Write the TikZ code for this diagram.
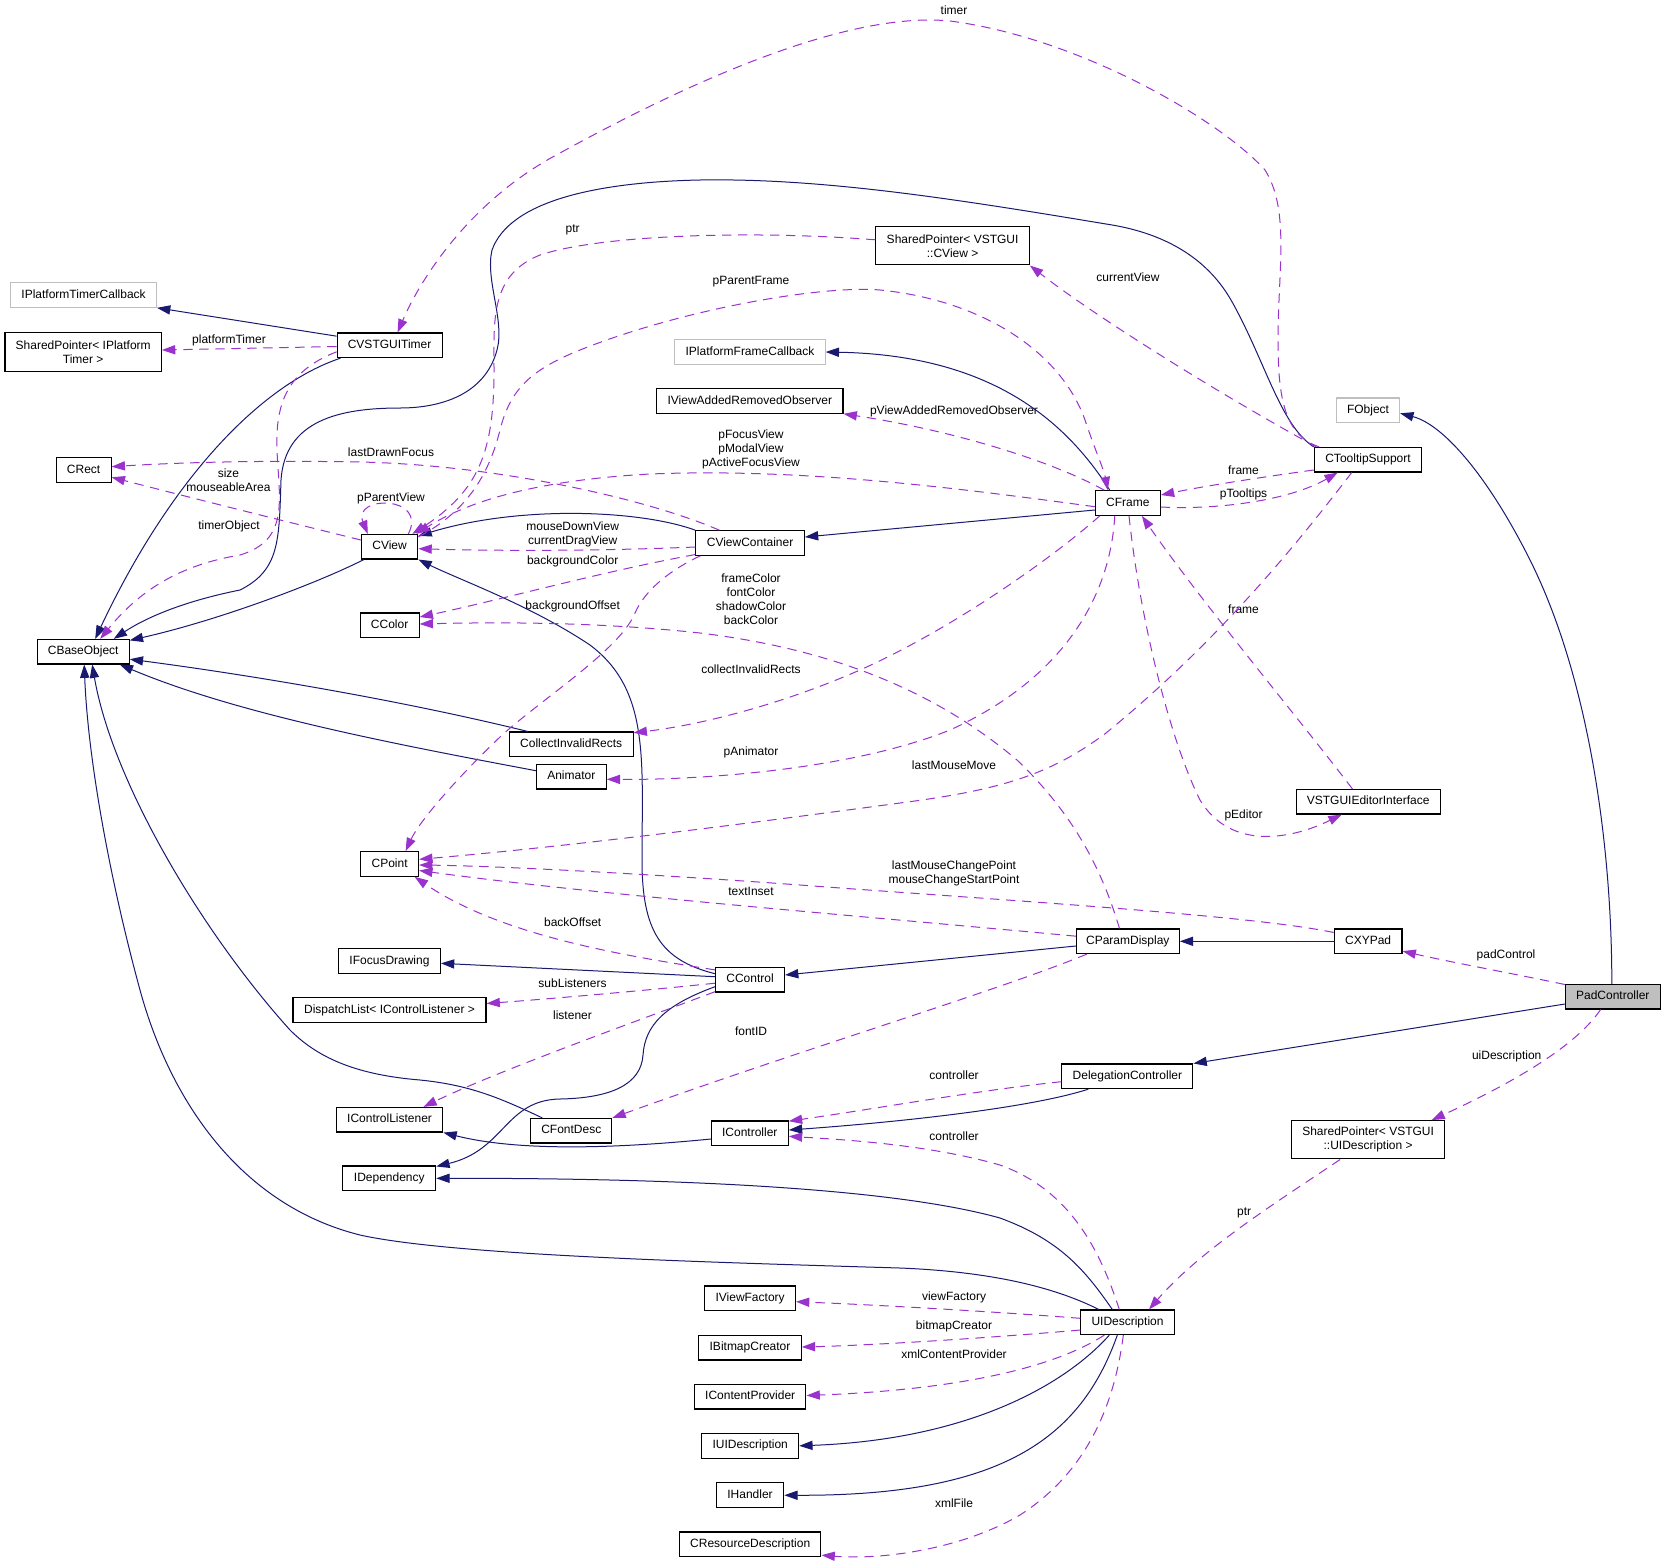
\documentclass[tikz,border=0pt]{standalone}
\usepackage{fontspec}
\setmainfont{Liberation Sans}
\usetikzlibrary{arrows.meta,calc}
\definecolor{inhcol}{HTML}{191970}
\definecolor{usecol}{HTML}{9A32CD}
\definecolor{greyb}{HTML}{BFBFBF}
\newcommand\lblfont{\fontsize{9}{10.6}\selectfont}
\tikzset{
  clsbox/.style={draw=black, line width=0.8pt, rectangle, inner sep=0pt, minimum height=18.45pt, font=\lblfont, fill=white, text height=6.6pt, text depth=1.9pt},
  clsboxtwo/.style={draw=black, line width=0.8pt, rectangle, inner sep=0pt, minimum height=28.7pt, font=\lblfont, fill=white, align=center},
  greybox/.style={clsbox, draw=greyb},
  padbox/.style={clsbox, fill=greyb},
  lbl/.style={font=\lblfont, align=center, inner sep=0pt},
  inhe/.style={draw=inhcol, line width=0.75pt, -{Triangle[length=10pt,width=6.9pt]}},
  usee/.style={draw=usecol, line width=0.75pt, dash pattern=on 7pt off 5pt, -{Triangle[length=10pt,width=6.9pt]}},
}
\begin{document}
\begin{tikzpicture}[x=0.75pt,y=-0.75pt]
\fill[white] (0,0) rectangle (1666,1564);
\useasboundingbox (0,0) rectangle (1666,1564);
% ---------------- nodes ----------------
\node[greybox, minimum width=145.7*0.75pt] (iptc) at (83.6,295) {IPlatformTimerCallback};
\node[clsboxtwo, minimum width=156.4*0.75pt] (spt) at (83.2,352) {SharedPointer< IPlatform\\Timer >};
\node[clsbox, minimum width=105*0.75pt] (timer) at (389.6,345.3) {CVSTGUITimer};
\node[clsbox, minimum width=55*0.75pt] (crect) at (83.6,470) {CRect};
\node[clsbox, minimum width=56.5*0.75pt] (cview) at (389.6,546.7) {CView};
\node[clsbox, minimum width=59*0.75pt] (ccolor) at (389.6,625.3) {CColor};
\node[clsbox, minimum width=92*0.75pt] (cbase) at (83.2,651.7) {CBaseObject};
\node[clsbox, minimum width=58*0.75pt] (cpoint) at (389.6,864) {CPoint};
\node[clsbox, minimum width=101.8*0.75pt] (ifocus) at (389.5,961) {IFocusDrawing};
\node[clsbox, minimum width=193*0.75pt] (dispatch) at (389.5,1010) {DispatchList< IControlListener >};
\node[clsboxtwo, minimum width=153.5*0.75pt] (spcview) at (952.6,245.8) {SharedPointer< VSTGUI\\::CView >};
\node[greybox, minimum width=150.3*0.75pt] (ipfc) at (750,352) {IPlatformFrameCallback};
\node[clsbox, minimum width=186.4*0.75pt] (ivaro) at (749.8,401) {IViewAddedRemovedObserver};
\node[greybox, minimum width=63.2*0.75pt] (fobject) at (1368,410.3) {FObject};
\node[clsbox, minimum width=107.5*0.75pt] (tooltip) at (1368,459.7) {CTooltipSupport};
\node[clsbox, minimum width=65*0.75pt] (cframe) at (1127.8,503) {CFrame};
\node[clsbox, minimum width=108.5*0.75pt] (cvc) at (750.1,543) {CViewContainer};
\node[clsbox, minimum width=123.7*0.75pt] (cir) at (571.2,744.3) {CollectInvalidRects};
\node[clsbox, minimum width=69.8*0.75pt] (anim) at (571.3,776.7) {Animator};
\node[clsbox, minimum width=69*0.75pt] (ccontrol) at (750,979.7) {CControl};
\node[clsbox, minimum width=103*0.75pt] (cparam) at (1127.8,941.3) {CParamDisplay};
\node[clsbox, minimum width=144.3*0.75pt] (veditor) at (1368.2,801.7) {VSTGUIEditorInterface};
\node[clsbox, minimum width=67.8*0.75pt] (cxypad) at (1368.1,941.3) {CXYPad};
\node[padbox, minimum width=95*0.75pt] (pad) at (1612.8,996.7) {PadController};
\node[clsbox, minimum width=106.5*0.75pt] (icl) at (389.6,1119.7) {IControlListener};
\node[clsbox, minimum width=92.8*0.75pt] (idep) at (389.3,1178.3) {IDependency};
\node[clsbox, minimum width=81*0.75pt] (fontdesc) at (571.3,1130.7) {CFontDesc};
\node[clsbox, minimum width=77*0.75pt] (ictrl) at (749.8,1133.3) {IController};
\node[clsbox, minimum width=131*0.75pt] (deleg) at (1127.4,1076.3) {DelegationController};
\node[clsbox, minimum width=90.7*0.75pt] (ivf) at (750.1,1298.3) {IViewFactory};
\node[clsbox, minimum width=93.3*0.75pt] (uidesc) at (1127.5,1322.3) {UIDescription};
\node[clsbox, minimum width=102.5*0.75pt] (ibmp) at (750,1347.7) {IBitmapCreator};
\node[clsbox, minimum width=111.5*0.75pt] (icp) at (750.2,1396.7) {IContentProvider};
\node[clsbox, minimum width=97*0.75pt] (iuid) at (750.2,1445.8) {IUIDescription};
\node[clsbox, minimum width=67.5*0.75pt] (ihandler) at (750,1495.2) {IHandler};
\node[clsbox, minimum width=141.5*0.75pt] (cres) at (750.2,1544.3) {CResourceDescription};
\node[clsboxtwo, minimum width=153*0.75pt] (spui) at (1368.1,1139.8) {SharedPointer< VSTGUI\\::UIDescription >};
% ---------------- labels ----------------
\node[lbl] (l1) at (954,10.7) {timer};
\node[lbl] (l2) at (572.6,230) {ptr};
\node[lbl] (l3) at (751,281.7) {pParentFrame};
\node[lbl] (l4) at (1128,277) {currentView};
\node[lbl] (l5) at (229,340) {platformTimer};
\node[lbl] (l6) at (954,411) {pViewAddedRemovedObserver};
\node[lbl] (l7) at (751,449.7) {pFocusView\\pModalView\\pActiveFocusView};
\node[lbl] (l8) at (391,452.3) {lastDrawnFocus};
\node[lbl] (l9) at (1243.5,470.7) {frame};
\node[lbl] (l10) at (228.5,480.3) {size\\mouseableArea};
\node[lbl] (l11) at (1243.5,494.3) {pTooltips};
\node[lbl] (l12) at (391,498) {pParentView};
\node[lbl] (l13) at (229,526.7) {timerObject};
\node[lbl] (l14) at (572.7,534.5) {mouseDownView\\currentDragView};
\node[lbl] (l15) at (572.7,561.7) {backgroundColor};
\node[lbl] (l16) at (751,599.3) {frameColor\\fontColor\\shadowColor\\backColor};
\node[lbl] (l17) at (572.7,606.7) {backgroundOffset};
\node[lbl] (l18) at (1243.5,609.3) {frame};
\node[lbl] (l19) at (751,669) {collectInvalidRects};
\node[lbl] (l20) at (751,752.7) {pAnimator};
\node[lbl] (l21) at (954,764.7) {lastMouseMove};
\node[lbl] (l22) at (1243.5,815.3) {pEditor};
\node[lbl] (l23) at (954,873) {lastMouseChangePoint\\mouseChangeStartPoint};
\node[lbl] (l24) at (751,891.7) {textInset};
\node[lbl] (l25) at (572.7,922) {backOffset};
\node[lbl] (l26) at (1506,955.7) {padControl};
\node[lbl] (l27) at (572.5,983.3) {subListeners};
\node[lbl] (l28) at (572.5,1015) {listener};
\node[lbl] (l29) at (751,1031) {fontID};
\node[lbl] (l30) at (1506.7,1056.7) {uiDescription};
\node[lbl] (l31) at (954,1074.7) {controller};
\node[lbl] (l32) at (954,1136.3) {controller};
\node[lbl] (l33) at (1244.2,1212.7) {ptr};
\node[lbl] (l34) at (954,1297) {viewFactory};
\node[lbl] (l35) at (954,1326) {bitmapCreator};
\node[lbl] (l36) at (954,1354) {xmlContentProvider};
\node[lbl] (l37) at (954,1503.3) {xmlFile};
% ---------------- inheritance edges ----------------
\draw[inhe] ($(timer.north west)+(0,3.7)$) -- (iptc.south east);
\draw[inhe] ($(timer.south west)+(4,0)$) .. controls (260,385) and (170,480) .. ($(cbase.north)+(12,0)$);
\draw[inhe] ($(cview.south west)+(3,0)$) .. controls (320,582) and (220,620) .. ($(cbase.north east)+(0,1.5)$);
\draw[inhe] (tooltip.north west) .. controls (1280,425) and (1265,360) .. (1231,300)
  .. controls (1205,255) and (1160,232) .. (1106,224)
  .. controls (950,198) and (820,178) .. (700,180)
  .. controls (600,182) and (510,200) .. (492,250)
  .. controls (485,280) and (505,320) .. (497,350)
  .. controls (485,395) and (440,408) .. (400,408)
  .. controls (340,408) and (285,420) .. (281,480)
  .. controls (279,540) and (280,570) .. (240,590)
  .. controls (190,600) and (150,615) .. ($(cbase.north east)+(-16,0)$);
\draw[inhe] (cvc.north west) .. controls (640,510) and (520,505) .. ($(cview.north east)+(0,2)$);
\draw[inhe] ($(cframe.west)+(0,7)$) -- ($(cvc.east)+(0,-6)$);
\draw[inhe] ($(cframe.north west)+(15,0)$) .. controls (1065,420) and (990,355) .. (ipfc.east);
\draw[inhe] ($(cir.north west)+(19,0)$) .. controls (400,700) and (250,675) .. ($(cbase.east)+(0,7.5)$);
\draw[inhe] ($(anim.west)+(0,-6)$) .. controls (400,745) and (240,715) .. ($(cbase.south east)+(-10,0)$);
\draw[inhe] ($(ccontrol.west)+(0,-6)$) .. controls (660,960) and (642,930) .. (642,860)
  .. controls (642,760) and (650,690) .. (590,645)
  .. controls (530,605) and (460,580) .. (cview.south east);
\draw[inhe] ($(ccontrol.west)+(0,-3)$) -- ($(ifocus.east)+(0,2.3)$);
\draw[inhe] ($(ccontrol.west)+(0,7)$) .. controls (665,1005) and (645,1025) .. (643,1055)
  .. controls (641,1085) and (610,1098) .. (560,1099)
  .. controls (505,1100) and (505,1150) .. ($(idep.north east)+(0,1)$);
\draw[inhe] ($(cparam.west)+(0,4.7)$) -- ($(ccontrol.east)+(0,-4.7)$);
\draw[inhe] (cxypad.west) -- (cparam.east);
\draw[inhe] ($(pad.north)+(-1,0)$) .. controls (1612,850) and (1590,680) .. (1530,560)
  .. controls (1490,480) and (1445,425) .. ($(fobject.east)+(0,3)$);
\draw[inhe] ($(pad.west)+(0,7.3)$) -- (deleg.north east);
\draw[inhe] ($(deleg.south west)+(27,0)$) .. controls (1030,1108) and (900,1122) .. ($(ictrl.east)+(0,-3.3)$);
\draw[inhe] ($(ictrl.west)+(0,5.7)$) .. controls (620,1148) and (520,1152) .. (icl.south east);
\draw[inhe] ($(fontdesc.north west)+(12,0)$) .. controls (500,1098) and (470,1085) .. (420,1080)
  .. controls (360,1075) and (320,1060) .. (290,1030)
  .. controls (200,930) and (112,780) .. ($(cbase.south)+(9,0)$);
\draw[inhe] ($(uidesc.north west)+(18.5,0)$) .. controls (1060,1290) and (1000,1272) .. (900,1268)
  .. controls (700,1262) and (450,1255) .. (360,1235)
  .. controls (240,1205) and (170,1100) .. (140,990)
  .. controls (110,880) and (88,760) .. ($(cbase.south)+(1,0)$);
\draw[inhe] ($(uidesc.north west)+(32,0)$) .. controls (1085,1270) and (1060,1240) .. (1000,1218)
  .. controls (900,1190) and (700,1178) .. (idep.east);
\draw[inhe] ($(uidesc.south west)+(29,0)$) .. controls (1060,1390) and (960,1440) .. (iuid.east);
\draw[inhe] ($(uidesc.south west)+(37,0)$) .. controls (1080,1440) and (1000,1496) .. (ihandler.east);
% ---------------- usage edges ----------------
\draw[usee] ($(tooltip.north west)+(5.4,0)$) .. controls (1285,435) and (1278,400) .. (1278,340)
  .. controls (1278,270) and (1290,210) .. (1265,170)
  .. controls (1220,120) and (1080,38) .. (950,21)
  .. controls (860,12) and (720,65) .. (560,153)
  .. controls (470,200) and (420,280) .. ($(timer.north)+(8,0)$);
\draw[usee] ($(timer.west)+(0,1.2)$) -- ($(spt.east)+(0,-2)$);
\draw[usee] ($(timer.west)+(0,6.5)$) .. controls (290,370) and (275,400) .. (277,450)
  .. controls (279,500) and (290,540) .. (240,555)
  .. controls (180,565) and (140,590) .. ($(cbase.north)+(17,0)$);
\draw[usee] ($(spcview.west)+(0,-6)$) .. controls (750,230) and (600,235) .. (540,255)
  .. controls (490,275) and (494,320) .. (494,370)
  .. controls (494,450) and (480,490) .. ($(cview.north east)+(-6,0)$);
\draw[usee] ($(cview.north east)+(0,3)$) .. controls (470,510) and (490,470) .. (500,430)
  .. controls (510,390) and (530,370) .. (580,350)
  .. controls (680,310) and (820,285) .. (880,290)
  .. controls (980,300) and (1060,350) .. (1085,420)
  .. controls (1095,450) and (1104,470) .. ($(cframe.north west)+(13,0)$);
\draw[usee] ($(cview.north east)+(-10,0)$) .. controls (428,495) and (352,495) .. ($(cview.north west)+(7,0)$);
\draw[usee] ($(cview.west)+(0,-6.7)$) .. controls (280,520) and (200,500) .. ($(crect.east)+(0,7.3)$);
\draw[usee] ($(cvc.north west)+(24,0)$) .. controls (650,500) and (500,465) .. (360,462)
  .. controls (250,460) and (170,463) .. ($(crect.east)+(0,-3.3)$);
\draw[usee] ($(cframe.west)+(0,3.7)$) .. controls (950,487) and (800,468) .. (650,474)
  .. controls (540,480) and (470,500) .. ($(cview.north east)+(-2,0)$);
\draw[usee] ($(cvc.west)+(0,4)$) .. controls (600,551) and (500,551) .. ($(cview.east)+(0,2)$);
\draw[usee] ($(cvc.south west)+(0,-1.3)$) .. controls (600,572) and (500,600) .. ($(ccolor.east)+(0,-8.3)$);
\draw[usee] ($(cparam.north west)+(43.7,0)$) .. controls (1105,880) and (1080,820) .. (1017,760)
  .. controls (940,695) and (840,650) .. (700,633)
  .. controls (600,622) and (500,622) .. ($(ccolor.east)+(0,-1.3)$);
\draw[usee] ($(cvc.south west)+(5,0)$) .. controls (670,570) and (645,590) .. (635,613)
  .. controls (620,650) and (540,700) .. (500,737)
  .. controls (460,775) and (420,820) .. ($(cpoint.north)+(16,0)$);
\draw[usee] ($(cframe.south west)+(5,0)$) .. controls (1050,560) and (950,630) .. (860,670)
  .. controls (780,705) and (700,725) .. ($(cir.north east)+(0,1.3)$);
\draw[usee] ($(cframe.south west)+(20,0)$) .. controls (1110,600) and (1060,680) .. (950,730)
  .. controls (850,770) and (700,780) .. ($(anim.east)+(0,2.6)$);
\draw[usee] ($(tooltip.south west)+(38,0)$) .. controls (1300,540) and (1220,640) .. (1106,733)
  .. controls (1050,775) and (1000,790) .. (900,803)
  .. controls (700,830) and (550,848) .. ($(cpoint.east)+(0,-4.7)$);
\draw[usee] ($(cxypad.north west)+(0,4)$) .. controls (1250,915) and (1000,900) .. (800,885)
  .. controls (650,874) and (500,866) .. ($(cpoint.east)+(0,1)$);
\draw[usee] ($(cparam.north west)+(0,7.7)$) .. controls (850,915) and (600,895) .. ($(cpoint.east)+(0,6.5)$);
\draw[usee] ($(ccontrol.north west)+(0,3)$) .. controls (620,955) and (500,935) .. ($(cpoint.south east)+(-4.5,0)$);
\draw[usee] ($(ccontrol.west)+(0,3.5)$) .. controls (650,990) and (560,998) .. ($(dispatch.east)+(0,-6.5)$);
\draw[usee] ($(ccontrol.west)+(0,12)$) .. controls (640,1020) and (500,1070) .. ($(icl.north east)+(-20,0)$);
\draw[usee] ($(cparam.south west)+(11,0)$) .. controls (1000,990) and (800,1050) .. (fontdesc.north east);
\draw[usee] ($(cframe.east)+(0,4)$) .. controls (1220,510) and (1290,500) .. ($(tooltip.south west)+(24,0)$);
\draw[usee] ($(tooltip.west)+(0,10.3)$) .. controls (1270,476) and (1210,485) .. ($(cframe.east)+(0,-8)$);
\draw[usee] ($(tooltip.north west)+(2.5,0)$) .. controls (1230,400) and (1100,320) .. (spcview.south east);
\draw[usee] ($(cframe.north west)+(9.5,0)$) .. controls (1050,460) and (950,430) .. (ivaro.south east);
\draw[usee] ($(veditor.north)+(-15.8,0)$) .. controls (1300,720) and (1200,600) .. ($(cframe.south east)+(-19,0)$);
\draw[usee] ($(cframe.south)+(1.2,0)$) .. controls (1140,620) and (1170,740) .. (1200,800)
  .. controls (1230,850) and (1290,840) .. ($(veditor.south)+(-26.5,0)$);
\draw[usee] ($(pad.north west)+(0,0.6)$) .. controls (1510,973) and (1450,962) .. ($(cxypad.south east)+(0,-3)$);
\draw[usee] ($(pad.south)+(-12.2,0)$) .. controls (1580,1040) and (1530,1075) .. ($(spui.north east)+(-13.6,0)$);
\draw[usee] ($(spui.south)+(-28,0)$) .. controls (1280,1200) and (1200,1250) .. ($(uidesc.north)+(21.5,0)$);
\draw[usee] ($(deleg.west)+(0,5.4)$) .. controls (980,1090) and (880,1108) .. ($(ictrl.north east)+(0,0.7)$);
\draw[usee] ($(uidesc.north west)+(39,0)$) .. controls (1100,1250) and (1070,1190) .. (1000,1165)
  .. controls (930,1145) and (850,1140) .. ($(ictrl.east)+(0,3)$);
\draw[usee] ($(uidesc.west)+(0,-4)$) .. controls (1000,1312) and (880,1305) .. ($(ivf.east)+(0,3.4)$);
\draw[usee] ($(uidesc.west)+(0,7.7)$) .. controls (1000,1337) and (880,1345) .. ($(ibmp.east)+(0,-0.7)$);
\draw[usee] ($(uidesc.south west)+(24,0)$) .. controls (1050,1370) and (950,1390) .. ($(icp.east)+(0,-1.2)$);
\draw[usee] ($(uidesc.south west)+(43,0)$) .. controls (1115,1400) and (1090,1470) .. (1020,1515)
  .. controls (960,1550) and (880,1560) .. ($(cres.south east)+(0,-2)$);
\end{tikzpicture}
\end{document}
